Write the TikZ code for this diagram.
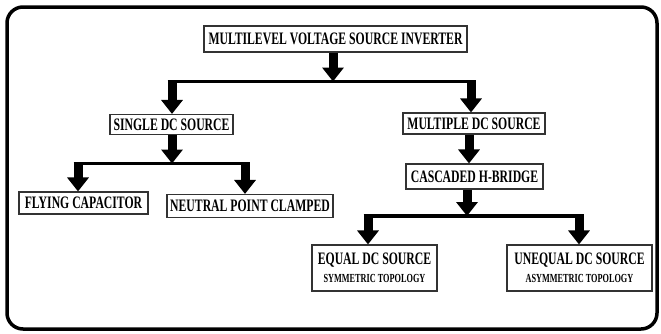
\documentclass[tikz,border=0pt]{standalone}
\usepackage{fontspec}
\setmainfont{Liberation Serif}[FakeStretch=0.67]
\usetikzlibrary{arrows.meta}
\tikzset{
  box/.style={draw=black!80, line width=1.1pt, fill=white, inner sep=0pt,
    font=\bfseries\fontsize{17.5}{19}\selectfont, align=center},
  fat/.style={line width=9pt, -{Triangle[width=21pt,length=14pt]}},
  bar/.style={line width=3.5pt},
  frame/.style={line width=3.5pt, rounded corners=16pt}
}
\newcommand{\subtxt}{\fontsize{12.3}{13}\selectfont}
\begin{document}
\begin{tikzpicture}[x=1pt,y=-1pt]
\useasboundingbox (0,0) rectangle (661,333);
\draw[frame] (7,7) rectangle (657,329);
% nodes
\node[box, minimum width=263, minimum height=26] (top) at (335.5,39) {MULTILEVEL VOLTAGE SOURCE INVERTER};
\node[box, minimum width=123, minimum height=20] (single) at (171.5,124.5) {SINGLE DC SOURCE};
\node[box, minimum width=142, minimum height=21] (multi) at (474,123.5) {MULTIPLE DC SOURCE};
\node[box, minimum width=137, minimum height=25] (casc) at (474.5,176.5) {CASCADED H-BRIDGE};
\node[box, minimum width=129, minimum height=22] (fly) at (83.5,203) {FLYING CAPACITOR};
\node[box, minimum width=166, minimum height=23] (npc) at (250,206) {NEUTRAL POINT CLAMPED};
\node[box, minimum width=125, minimum height=46] (equal) at (374.5,268) {EQUAL DC SOURCE\\[-1pt]{\subtxt SYMMETRIC TOPOLOGY}};
\node[box, minimum width=145, minimum height=46] (unequal) at (579.5,268) {UNEQUAL DC SOURCE\\[-1pt]{\subtxt ASYMMETRIC TOPOLOGY}};
% junction coordinates
\coordinate (j1) at (333,81.5);
\coordinate (j1l) at (172,81.5);
\coordinate (j1r) at (471,81.5);
\coordinate (j2) at (172,163.5);
\coordinate (j2l) at (78,163.5);
\coordinate (j2r) at (245,163.5);
\coordinate (j3) at (467,216);
\coordinate (j3l) at (368,216);
\coordinate (j3r) at (579,216);
% level 1
\draw[fat] (top.south -| j1) -- (j1);
\draw[bar] ([xshift=-4.5pt]j1l) -- ([xshift=4.5pt]j1r);
\draw[fat] (j1l) -- (j1l |- single.north);
\draw[fat] (j1r) -- (j1r |- multi.north);
% single branch
\draw[fat] (single.south -| j2) -- (j2);
\draw[bar] ([xshift=-4.5pt]j2l) -- ([xshift=4.5pt]j2r);
\draw[fat] (j2l) -- (j2l |- fly.north);
\draw[fat] (j2r) -- (j2r |- npc.north);
% multiple branch
\draw[fat] (multi.south -| 469,0) -- (casc.north -| 469,0);
\draw[fat] (casc.south -| j3) -- (j3);
\draw[bar] ([xshift=-4.5pt]j3l) -- ([xshift=4.5pt]j3r);
\draw[fat] (j3l) -- (j3l |- equal.north);
\draw[fat] (j3r) -- (j3r |- unequal.north);
\end{tikzpicture}
\end{document}
